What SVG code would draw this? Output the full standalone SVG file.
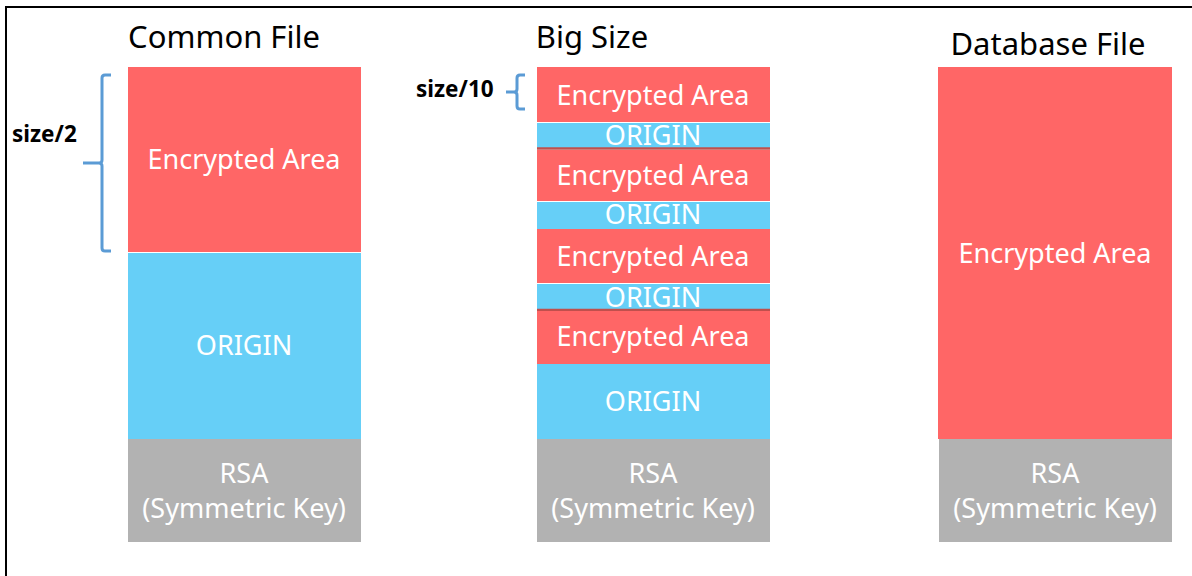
<svg xmlns="http://www.w3.org/2000/svg" width="1192" height="576" viewBox="0 0 1192 576">
<style>
.title{font-family:"Noto Sans","Liberation Sans",sans-serif;font-size:31px;fill:#000;}
.lbl{font-family:"Noto Sans","Liberation Sans",sans-serif;font-size:27px;fill:#fff;text-anchor:middle;dominant-baseline:central;}
.red{fill:#FF6666;}
.blue{fill:#66CFF7;}
.gray{fill:#B2B2B2;}
.brace{fill:none;stroke:#5B9BD5;stroke-width:3;}
.note{font-family:"Noto Sans","Liberation Sans",sans-serif;font-size:22.5px;font-weight:bold;fill:#000;}
.sep{stroke:#C0504D;stroke-width:2.5;}
</style>
<rect width="1192" height="576" fill="#fff"/>
<rect x="6" y="7" width="1200" height="600" fill="none" stroke="#000" stroke-width="2"/>

<g id="common-file">
<text class="title" x="224" y="48" text-anchor="middle">Common File</text>
<rect class="red" x="128" y="67" width="233" height="185"/>
<text class="lbl" x="244" y="158">Encrypted Area</text>
<rect class="blue" x="128" y="253" width="233" height="186"/>
<text class="lbl" x="244" y="344">ORIGIN</text>
<rect class="gray" x="128" y="439" width="233" height="103"/>
<text class="lbl" x="244" y="472">RSA</text>
<text class="lbl" x="244" y="507">(Symmetric Key)</text>
</g>

<g id="big-size">
<text class="title" x="592" y="48" text-anchor="middle">Big Size</text>
<rect class="red" x="537" y="67" width="233" height="55"/>
<text class="lbl" x="653" y="94">Encrypted Area</text>
<rect class="blue" x="537" y="123" width="233" height="25"/>
<text class="lbl" x="653" y="134">ORIGIN</text>
<line class="sep" x1="537" y1="148.5" x2="770" y2="148.5"/>
<rect class="red" x="537" y="150" width="233" height="51"/>
<text class="lbl" x="653" y="174">Encrypted Area</text>
<rect class="blue" x="537" y="202" width="233" height="27"/>
<text class="lbl" x="653" y="213">ORIGIN</text>
<rect class="red" x="537" y="229" width="233" height="54"/>
<text class="lbl" x="653" y="255">Encrypted Area</text>
<rect class="blue" x="537" y="284" width="233" height="25"/>
<text class="lbl" x="653" y="296">ORIGIN</text>
<line class="sep" x1="537" y1="310" x2="770" y2="310"/>
<rect class="red" x="537" y="311" width="233" height="53"/>
<text class="lbl" x="653" y="335">Encrypted Area</text>
<rect class="blue" x="537" y="364" width="233" height="75"/>
<text class="lbl" x="653" y="400">ORIGIN</text>
<rect class="gray" x="537" y="439" width="233" height="103"/>
<text class="lbl" x="653" y="472">RSA</text>
<text class="lbl" x="653" y="507">(Symmetric Key)</text>
</g>

<g id="database-file">
<text class="title" x="1048" y="55" text-anchor="middle">Database File</text>
<rect class="red" x="938" y="67" width="234" height="372"/>
<text class="lbl" x="1055" y="252">Encrypted Area</text>
<rect class="gray" x="939" y="439" width="233" height="103"/>
<text class="lbl" x="1055" y="472">RSA</text>
<text class="lbl" x="1055" y="507">(Symmetric Key)</text>
</g>

<g id="connectors">
<path class="brace" d="M111,75 H105 Q102,75 102,78 V160 Q102,163 99,163 H83 M99,163 Q102,163 102,166 V248 Q102,251 105,251 H111"/>
<text class="note" x="12" y="142">size/2</text>
<path class="brace" d="M525,75 H520 Q517,75 517,78 V89 Q517,92 514,92 H506 M514,92 Q517,92 517,95 V106 Q517,109 520,109 H525"/>
<text class="note" x="416" y="97">size/10</text>
</g>
</svg>
